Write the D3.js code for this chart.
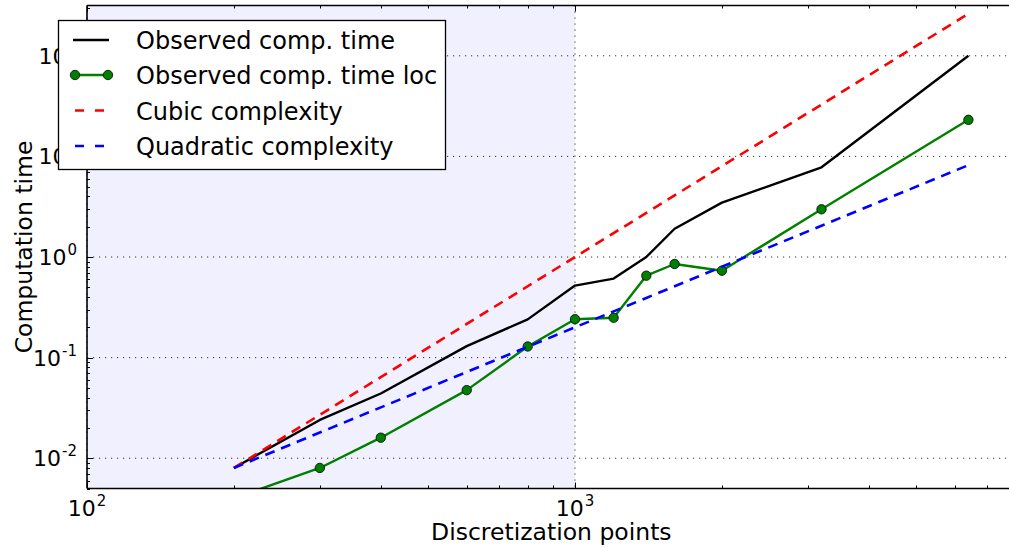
<!DOCTYPE html>
<html>
<head>
<meta charset="utf-8">
<script src="https://cdn.jsdelivr.net/npm/d3@7"></script>
<style>
  body { margin: 0; background: #fff; }
  svg { display: block; }
  text { font-family: "DejaVu Sans", sans-serif; fill: #000; }
</style>
</head>
<body>
<svg id="chart" width="1009" height="548"></svg>
<script>
// Problem sizes (number of discretization points)
const points = [200, 300, 400, 600, 800, 1000, 1200, 1400, 1600, 2000, 3200, 6400];
// Measured computation time (s)
const observed = [0.008, 0.024, 0.044, 0.130, 0.240, 0.52, 0.61, 1.0, 1.91, 3.47, 7.8, 100];
// Measured computation time, localized variant (s)
const observedLoc = [0.004, 0.008, 0.016, 0.0475, 0.129, 0.241, 0.249, 0.652, 0.852, 0.731, 2.98, 23.1];
// Reference complexity curves
const cubic = [0.008, 0.027, 0.064, 0.216, 0.512, 1.0, 1.728, 2.744, 4.096, 8.0, 32.77, 262.1];
const quadratic = [0.008, 0.018, 0.032, 0.072, 0.128, 0.2, 0.288, 0.392, 0.512, 0.8, 2.048, 8.19];

// Axis ticks (powers of ten) and shaded small-size region
const xMajorExp = [2, 3];
const yMajorExp = [-2, -1, 0, 1, 2];
const shadedSpan = [100, 1000];

const legendLabels = ["Observed comp. time", "Observed comp. time loc", "Cubic complexity", "Quadratic complexity"];

const svg = d3.select("#chart");
const plot = { left: 87, top: 5.5, bottom: 488.5 };

const x = d3.scaleLog().domain([100, 8000]).range([plot.left, plot.left + 488 * Math.log10(80)]);
const y = d3.scaleLog().domain([0.005, Math.pow(10, 2.5)]).range([plot.bottom, plot.top]);
const plotRight = x.range()[1];

svg.append("defs").append("clipPath").attr("id", "plotClip")
  .append("rect").attr("x", plot.left).attr("y", plot.top)
  .attr("width", plotRight - plot.left).attr("height", plot.bottom - plot.top);

// background + shaded span
svg.append("rect").attr("x", plot.left).attr("y", plot.top)
  .attr("width", plotRight - plot.left).attr("height", plot.bottom - plot.top).attr("fill", "#fff");
svg.append("rect").attr("x", x(shadedSpan[0])).attr("y", plot.top)
  .attr("width", x(shadedSpan[1]) - x(shadedSpan[0])).attr("height", plot.bottom - plot.top)
  .attr("fill", "#f0f0ff");

// dotted grid at major ticks
const grid = svg.append("g").attr("stroke", "#333").attr("stroke-width", 1).attr("stroke-dasharray", "1.2,4.8");
xMajorExp.forEach(e => {
  const v = Math.pow(10, e);
  grid.append("line").attr("x1", x(v)).attr("x2", x(v)).attr("y1", plot.top).attr("y2", plot.bottom);
});
yMajorExp.forEach(e => {
  const v = Math.pow(10, e);
  grid.append("line").attr("x1", plot.left).attr("x2", plotRight).attr("y1", y(v)).attr("y2", y(v));
});

const series = svg.append("g").attr("clip-path", "url(#plotClip)");
const lineOf = vals => d3.line().x((d, i) => x(points[i])).y(d => y(d))(vals);

series.append("path").attr("d", lineOf(observed)).attr("fill", "none")
  .attr("stroke", "#000").attr("stroke-width", 2.4).attr("stroke-linejoin", "round");
series.append("path").attr("d", lineOf(observedLoc)).attr("fill", "none")
  .attr("stroke", "#008000").attr("stroke-width", 2.4).attr("stroke-linejoin", "round");
series.selectAll("circle.loc").data(observedLoc).join("circle").attr("class", "loc")
  .attr("cx", (d, i) => x(points[i])).attr("cy", d => y(d)).attr("r", 4.7)
  .attr("fill", "#008000").attr("stroke", "#000").attr("stroke-width", 0.8);
series.append("path").attr("d", lineOf(cubic)).attr("fill", "none")
  .attr("stroke", "#ff0000").attr("stroke-width", 2.6).attr("stroke-dasharray", "10,7");
series.append("path").attr("d", lineOf(quadratic)).attr("fill", "none")
  .attr("stroke", "#0000ff").attr("stroke-width", 2.6).attr("stroke-dasharray", "10,7");

// ticks (inward, on bottom/top/left)
const ticks = svg.append("g").attr("stroke", "#000").attr("stroke-width", 1);
const isMajor = v => Math.abs(Math.log10(v) - Math.round(Math.log10(v))) < 1e-9;
x.ticks().forEach(v => {
  const len = isMajor(v) ? 6 : 3;
  const px = Math.round(x(v)) + 0.5;
  ticks.append("line").attr("x1", px).attr("x2", px).attr("y1", plot.bottom).attr("y2", plot.bottom - len);
  ticks.append("line").attr("x1", px).attr("x2", px).attr("y1", plot.top).attr("y2", plot.top + len);
});
y.ticks().forEach(v => {
  const len = isMajor(v) ? 6 : 3;
  const py = Math.round(y(v)) + 0.5;
  ticks.append("line").attr("x1", plot.left).attr("x2", plot.left + len).attr("y1", py).attr("y2", py);
});

// spines
const spines = svg.append("g").attr("stroke", "#000").attr("stroke-width", 1.6).attr("fill", "none");
spines.append("line").attr("x1", plot.left).attr("x2", plotRight).attr("y1", plot.bottom).attr("y2", plot.bottom);
spines.append("line").attr("x1", plot.left).attr("x2", plotRight).attr("y1", plot.top).attr("y2", plot.top);
spines.append("line").attr("x1", plot.left).attr("x2", plot.left).attr("y1", plot.top).attr("y2", plot.bottom);

// tick labels as 10^n
function powLabel(sel, e) {
  sel.append("tspan").text("10");
  sel.append("tspan").attr("dy", -10).attr("dx", 1).attr("font-size", 15).text(String(e));
}
xMajorExp.forEach(e => {
  const t = svg.append("text").attr("x", x(Math.pow(10, e))).attr("y", 516)
    .attr("text-anchor", "middle").attr("font-size", 22);
  powLabel(t, e);
});
yMajorExp.forEach(e => {
  const t = svg.append("text").attr("x", 77).attr("y", y(Math.pow(10, e)) + 8)
    .attr("text-anchor", "end").attr("font-size", 22);
  powLabel(t, e);
});

// axis titles
svg.append("text").attr("x", (plot.left + plotRight) / 2).attr("y", 540)
  .attr("text-anchor", "middle").attr("font-size", 23.5).text("Discretization points");
svg.append("text").attr("transform", `translate(32,${(plot.top + plot.bottom) / 2}) rotate(-90)`)
  .attr("text-anchor", "middle").attr("font-size", 23.5).text("Computation time");

// legend
const lg = svg.append("g");
lg.append("rect").attr("x", 58.5).attr("y", 20.5).attr("width", 387).attr("height", 149)
  .attr("fill", "#fff").attr("stroke", "#000").attr("stroke-width", 1.3);
const rowY = [40, 75, 110.5, 146];
const styles = [
  { color: "#000", dash: null, marker: false },
  { color: "#008000", dash: null, marker: true },
  { color: "#ff0000", dash: "9,11", marker: false },
  { color: "#0000ff", dash: "9,11", marker: false }
];
legendLabels.forEach((label, i) => {
  const s = styles[i];
  const ln = lg.append("line").attr("x1", s.dash ? 75 : 73).attr("x2", 109)
    .attr("y1", rowY[i]).attr("y2", rowY[i])
    .attr("stroke", s.color).attr("stroke-width", s.dash ? 2.6 : 2.4);
  if (s.dash) ln.attr("stroke-dasharray", s.dash);
  if (s.marker) {
    [75, 108].forEach(cx => lg.append("circle").attr("cx", cx).attr("cy", rowY[i]).attr("r", 4.7)
      .attr("fill", "#008000").attr("stroke", "#000").attr("stroke-width", 0.8));
  }
  lg.append("text").attr("x", 136).attr("y", rowY[i] + 9).attr("font-size", 24).text(label);
});
</script>
</body>
</html>
